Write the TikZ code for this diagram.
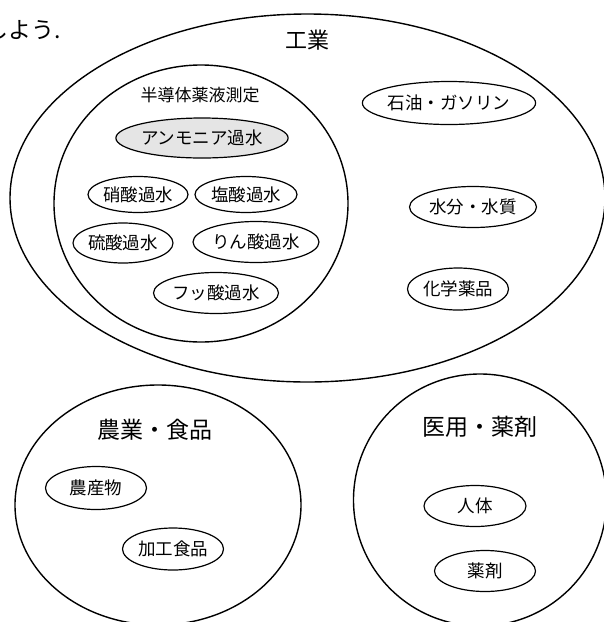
\documentclass[tikz,border=0pt]{standalone}
\usepackage{fontspec}
\setmainfont{Noto Sans CJK JP}
\usetikzlibrary{shapes.geometric}
\tikzset{
  container/.style={draw, line width=1.4pt, ellipse, inner sep=0pt},
  item/.style={draw, line width=1.2pt, ellipse, inner sep=0pt, font=\fontsize{17.5}{20}\selectfont},
  biglabel/.style={inner sep=0pt, font=\fontsize{23}{26}\selectfont},
  midlabel/.style={inner sep=0pt, font=\fontsize{17}{20}\selectfont},
}
\begin{document}
\begin{tikzpicture}[x=1pt,y=-1pt]
\useasboundingbox (0,0) rectangle (604,622);
\clip (0,0) rectangle (604,622);
\fill[white] (0,0) rectangle (604,622);
% partial sentence at top left
\node[inner sep=0pt, anchor=west, font=\fontsize{23}{26}\selectfont] (cut) at (-15,30) {しよう.};
% containers
\node[container, minimum width=595pt, minimum height=368pt] (kogyo) at (307.5,198) {};
\node[container, minimum width=294pt, minimum height=277pt] (semi) at (201,203.5) {};
\node[container, minimum width=286pt, minimum height=240pt] (agri) at (158,505) {};
\node[container, minimum width=253pt, minimum height=252pt] (med) at (480,500) {};
% container labels
\node[inner sep=0pt, font=\fontsize{22}{25}\selectfont] (kogyoL) at (307,40) {工業};
\node[midlabel] (semiL) at (200,95) {半導体薬液測定};
\node[biglabel] (agriL) at (155,430) {農業・食品};
\node[biglabel] (medL) at (480,427) {医用・薬剤};
% semiconductor items
\node[item, fill=gray!20, minimum width=170pt, minimum height=40pt] (amm) at (202,138) {アンモニア過水};
\node[item, minimum width=100pt, minimum height=36pt] (sho) at (138,194.5) {硝酸過水};
\node[item, minimum width=102pt, minimum height=36pt] (en) at (246,194.5) {塩酸過水};
\node[item, minimum width=100pt, minimum height=40pt] (ryu) at (123,243) {硫酸過水};
\node[item, minimum width=126pt, minimum height=41pt] (rin) at (256,242) {りん酸過水};
\node[item, minimum width=125pt, minimum height=41pt] (fu) at (216,293) {フッ酸過水};
% industry items
\node[item, minimum width=168pt, minimum height=43pt] (oil) at (449,103) {石油・ガソリン};
\node[item, minimum width=127pt, minimum height=41pt] (water) at (473,207) {水分・水質};
\node[item, minimum width=101pt, minimum height=42pt] (chem) at (458,289) {化学薬品};
% agriculture items
\node[item, minimum width=101pt, minimum height=43pt] (farm) at (96,488) {農産物};
\node[item, minimum width=101pt, minimum height=42pt] (food) at (173,549) {加工食品};
% medical items
\node[item, minimum width=102pt, minimum height=41pt] (body) at (475,506) {人体};
\node[item, minimum width=101pt, minimum height=41pt] (drug) at (485,571) {薬剤};
\end{tikzpicture}
\end{document}
